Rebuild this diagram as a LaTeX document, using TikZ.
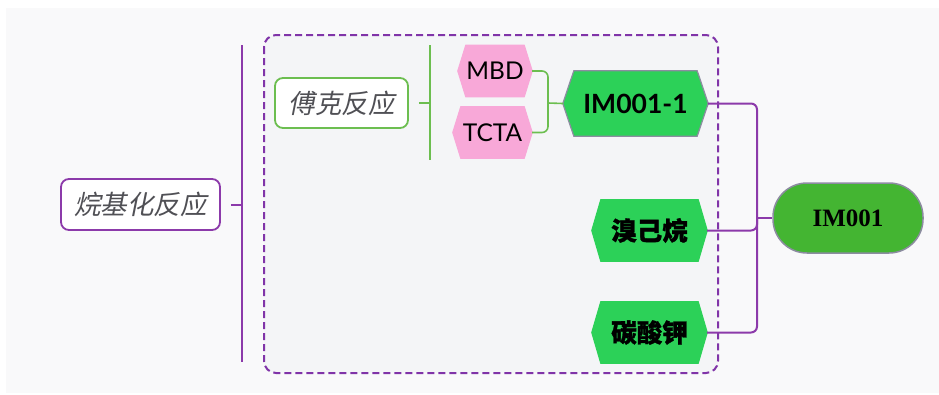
\documentclass[tikz,border=0pt]{standalone}
\usepackage{fontspec}
\newfontfamily\cjk[BoldFeatures={FakeBold=1.2}]{Noto Sans CJK SC}
\newfontfamily\cjkit[FakeSlant=0.2]{Noto Sans CJK SC}
\newfontfamily\lato{Lato}
\newfontfamily\tnr{Liberation Serif}
\definecolor{purp}{RGB}{140,58,170}
\definecolor{dashp}{RGB}{128,52,168}
\definecolor{grline}{RGB}{108,190,80}
\definecolor{pinkf}{RGB}{248,168,216}
\definecolor{hexg}{RGB}{44,209,88}
\definecolor{rootg}{RGB}{68,181,50}
\definecolor{rootb}{RGB}{140,140,160}
\definecolor{panel}{RGB}{249,249,250}
\definecolor{boxbg}{RGB}{244,245,247}
\definecolor{txtg}{RGB}{80,80,85}
\pgfdeclarelayer{back}
\pgfdeclarelayer{mid}
\pgfsetlayers{back,mid,main}
\newcommand\hexfill[4]{%
  \begin{pgfonlayer}{mid}
  \path[fill=#2,draw=#3,line width=1.2pt] (#1.west) -- ([xshift=#4]#1.north west) -- ([xshift=-#4]#1.north east) -- (#1.east) -- ([xshift=-#4]#1.south east) -- ([xshift=#4]#1.south west) -- cycle;
  \end{pgfonlayer}}
\tikzset{
  catbox/.style={draw=#1, line width=1.8pt, rounded corners=8pt, fill=white, inner sep=0pt,
    font=\cjkit\fontsize{26.5}{26.5}\selectfont, text=txtg},
  purline/.style={draw=purp, line width=2pt, rounded corners=6pt},
  grnline/.style={draw=grline, line width=1.6pt, rounded corners=6pt},
  latofont/.style={font=\lato\fontsize{24.5}{24.5}\selectfont},
  cjkbold/.style={font=\cjk\bfseries\fontsize{25.5}{25.5}\selectfont},
}
\begin{document}
\begin{tikzpicture}[x=1pt,y=-1pt]
\useasboundingbox (0,0) rectangle (939,394);
\begin{pgfonlayer}{back}
\fill[white] (0,0) rectangle (939,394);
\fill[panel] (6,8) rectangle (939,393);
\draw[dashp, line width=2pt, dash pattern=on 7pt off 4pt, rounded corners=12pt, fill=boxbg] (264,35) rectangle (718,373);
\end{pgfonlayer}

% category boxes
\node[catbox=purp, minimum width=159, minimum height=51] (alk) at (140.5,204.5) {烷基化反应};
\node[catbox=grline, minimum width=133, minimum height=50] (fk) at (341.5,103) {傅克反应};

% hexagon nodes
\node[inner sep=0pt, minimum width=74, minimum height=51, latofont] (mbd) at (495,71) {MBD};
\hexfill{mbd}{pinkf}{pinkf}{8}
\node[inner sep=0pt, minimum width=79, minimum height=51, latofont] (tcta) at (492.5,132.5) {TCTA};
\hexfill{tcta}{pinkf}{pinkf}{8}
\node[inner sep=0pt, minimum width=145, minimum height=65, font=\lato\bfseries\fontsize{26.5}{26.5}\selectfont] (im1) at (635.5,103.5) {IM001-1};
\hexfill{im1}{hexg}{rootb}{11}
\node[inner sep=0pt, minimum width=115, minimum height=61, cjkbold] (xj) at (649.5,230.5) {溴己烷};
\hexfill{xj}{hexg}{hexg}{9}
\node[inner sep=0pt, minimum width=115, minimum height=61, cjkbold] (tsj) at (649.5,332.5) {碳酸钾};
\hexfill{tsj}{hexg}{hexg}{9}
\node[draw=rootb, fill=rootg, line width=1.5pt, rounded corners=34pt, minimum width=150, minimum height=70, inner sep=0pt, font=\tnr\bfseries\fontsize{25}{25}\selectfont] (root) at (848,218) {IM001};

% trunk lines
\coordinate (pt) at (242,45);
\coordinate (pb) at (242,362);
\draw[purline] (pt) -- (pb);
\coordinate (pa) at (242,204.5);
\draw[purline] ([xshift=10pt]alk.east) -- (pa);
\coordinate (gt) at (430,45);
\coordinate (gb) at (430,160);
\draw[grnline] (gt) -- (gb);
\coordinate (ga) at (430,103);
\draw[grnline] ([xshift=10pt]fk.east) -- (ga);

% green bracket
\coordinate (gj) at (548,103);
\draw[grnline] (mbd.east) -| (gj) |- (tcta.east);
\draw[grnline] (gj) -- (im1.west);

% purple bracket
\coordinate (pj) at (757,218);
\draw[purline] (im1.east) -| (pj) |- (tsj.east);
\draw[purline] (xj.east) -| (pj);
\draw[purline] (pj) -- (root.west);
\end{tikzpicture}
\end{document}
